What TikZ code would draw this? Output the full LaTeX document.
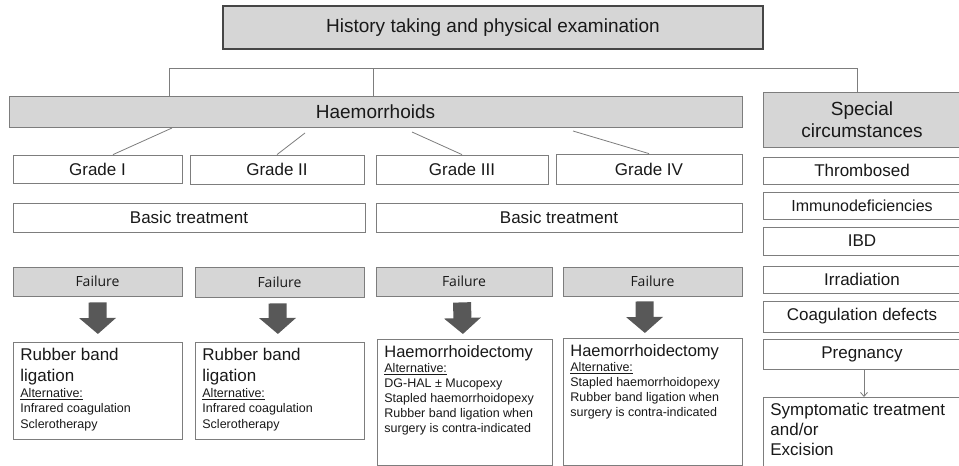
\documentclass[tikz,border=0pt]{standalone}
\usepackage{fontspec}
\setmainfont{Liberation Sans}
\newfontfamily\failfont{Open Sans}
\usetikzlibrary{arrows.meta}
\definecolor{boxgrey}{RGB}{214,214,214}
\definecolor{linegrey}{RGB}{125,125,125}
\definecolor{darkline}{RGB}{70,70,70}
\definecolor{arrowgrey}{RGB}{88,88,88}
\definecolor{textblack}{RGB}{25,25,25}

\begin{document}
\begin{tikzpicture}
        [x=1pt, y=-1pt,
        box/.style={rectangle, draw=linegrey, line width=0.8pt, fill=white, inner sep=0pt, text=textblack, font=\fontsize{17}{20}\selectfont},
        head/.style={box, fill=boxgrey, align=center, font=\fontsize{19}{22}\selectfont},
        failbox/.style={box, fill=boxgrey, font=\failfont\fontsize{14}{16}\selectfont},
        resbox/.style={box, anchor=north west, inner xsep=7pt, inner ysep=6pt, align=left},
        edge/.style={linegrey, line width=0.8pt},
        bigarrow/.style={arrowgrey, line width=18pt, -{Triangle[length=16pt, width=36pt]}}]

        \useasboundingbox (0,0) rectangle (959,466);

        \node[head, draw=darkline, line width=1.6pt, minimum width=540pt, minimum height=43pt] (hist) at (493,27.5) {History taking and physical examination};

        \node[head, minimum width=733pt, minimum height=31pt] (haem) at (375.5,111.5) {Haemorrhoids};
        \node[head, minimum width=198pt, minimum height=55pt] (spec) at (862,119.5) {Special\\circumstances};

        % grades
        \node[box, minimum width=169pt, minimum height=28pt] (g1) at (97.5,169) {Grade I};
        \node[box, minimum width=174pt, minimum height=29pt] (g2) at (277,169.5) {Grade II};
        \node[box, minimum width=172pt, minimum height=29pt] (g3) at (462,169.5) {Grade III};
        \node[box, minimum width=186pt, minimum height=30pt] (g4) at (649,169) {Grade IV};

        \node[box, minimum width=352pt, minimum height=29pt] (bt1) at (189,217.5) {Basic treatment};
        \node[box, minimum width=366pt, minimum height=29pt] (bt2) at (559,217.5) {Basic treatment};

        \node[failbox, minimum width=169pt, minimum height=29pt] (f1) at (97.5,281.5) {Failure};
        \node[failbox, minimum width=169pt, minimum height=30pt] (f2) at (279.5,282) {Failure};
        \node[failbox, minimum width=176pt, minimum height=29pt] (f3) at (464,281.5) {Failure};
        \node[failbox, minimum width=179pt, minimum height=29pt] (f4) at (652.5,281.5) {Failure};

        % treatments
        \node[resbox] (r1) at (13,342) {\parbox[t][85pt][t]{155pt}{{\fontsize{17}{21}\selectfont Rubber band\\ligation\par}{\fontsize{12.5}{15.5}\selectfont \underline{Alternative:}\\Infrared coagulation\\Sclerotherapy\par}}};
        \node[resbox] (r2) at (195,342) {\parbox[t][85pt][t]{155pt}{{\fontsize{17}{21}\selectfont Rubber band\\ligation\par}{\fontsize{12.5}{15.5}\selectfont \underline{Alternative:}\\Infrared coagulation\\Sclerotherapy\par}}};
        \node[resbox] (r3) at (377,339) {\parbox[t][114pt][t]{161pt}{{\fontsize{16.5}{20}\selectfont Haemorrhoidectomy\par}{\fontsize{12.5}{15}\selectfont \underline{Alternative:}\\DG-HAL ± Mucopexy\\Stapled haemorrhoidopexy\\Rubber band ligation when\\surgery is contra-indicated\par}}};
        \node[resbox] (r4) at (563,338) {\parbox[t][115pt][t]{165pt}{{\fontsize{16.5}{20}\selectfont Haemorrhoidectomy\par}{\fontsize{12.5}{15}\selectfont \underline{Alternative:}\\Stapled haemorrhoidopexy\\Rubber band ligation when\\surgery is contra-indicated\par}}};

        % special circumstances
        \node[box, minimum width=198pt, minimum height=27pt] (thr) at (862,170.5) {Thrombosed};
        \node[box, minimum width=198pt, minimum height=27pt, font=\fontsize{16}{19}\selectfont] (imm) at (862,205.5) {Immunodeficiencies};
        \node[box, minimum width=198pt, minimum height=28pt] (ibd) at (862,241) {IBD};
        \node[box, minimum width=198pt, minimum height=27pt] (irr) at (862,279.5) {Irradiation};
        \node[box, minimum width=198pt, minimum height=31pt] (coa) at (862,316.5) {Coagulation defects};
        \node[box, minimum width=198pt, minimum height=30pt] (preg) at (862,354) {Pregnancy};
        \node[resbox] (sym) at (763,397) {\parbox[t][64pt][t]{184pt}{\fontsize{17}{20}\selectfont Symptomatic treatment\\and/or\\Excision}};

        % tree lines
        \coordinate (barL) at (169,68);
        \coordinate (barR) at (857,68);
        \draw[edge] (haem.north -| barL) -- (barL) -- (barR) -- (spec.north -| barR);
        \draw[edge] ([xshift=-2pt]haem.north) -- ([xshift=-2pt]haem.north |- barL);

        \coordinate (h1) at (172,128);
        \coordinate (h2) at (305,133);
        \coordinate (h3) at (412,132);
        \coordinate (h4) at (573,131);
        \draw[edge] (h1) -- ([xshift=15.5pt]g1.north);
        \draw[edge] (h2) -- (g2.north);
        \draw[edge] (h3) -- (g3.north);
        \draw[edge] (h4) -- (g4.north);

        % failure arrows
        \draw[bigarrow] ([yshift=-6pt]f1.south) -- ([yshift=8pt]r1.north);
        \draw[bigarrow] ([xshift=-2pt, yshift=-6pt]f2.south) -- ([xshift=-2pt, yshift=8pt]r2.north);
        \draw[bigarrow] ([xshift=-2pt, yshift=-6pt]f3.south) -- ([xshift=-2pt, yshift=5pt]r3.north);
        \draw[bigarrow] ([xshift=-8pt, yshift=-5pt]f4.south) -- ([xshift=-8pt, yshift=5pt]r4.north);

        \draw[edge, -{Straight Barb[length=4pt, width=7pt]}] ([xshift=2pt]preg.south) -- ([xshift=2pt]sym.north -| preg.south);

    \end{tikzpicture}
\end{document}
